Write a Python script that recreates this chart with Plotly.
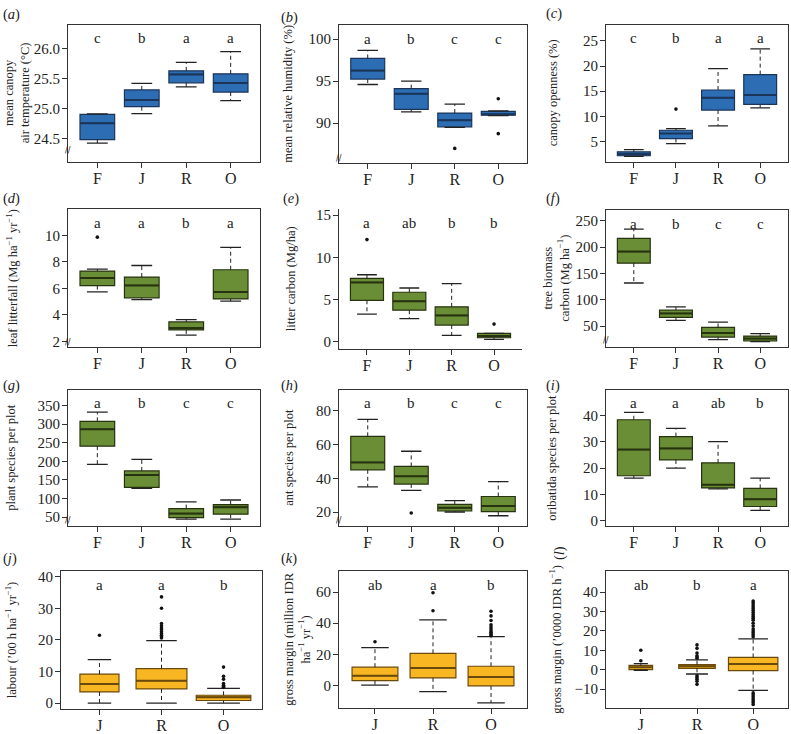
import plotly.graph_objects as go

# ---------------- data ----------------
CATS4 = ["F", "J", "R", "O"]
CATS3 = ["J", "R", "O"]

# (a) mean canopy air temperature
a_lower = [24.42, 24.915, 25.36, 25.13]
a_q1 = [24.48, 25.03, 25.43, 25.275]
a_median = [24.755, 25.14, 25.57, 25.425]
a_q3 = [24.90, 25.31, 25.63, 25.58]
a_upper = [24.91, 25.42, 25.77, 25.95]
a_outliers = [[], [], [], []]
a_letters = ["c", "b", "a", "a"]

# (b) mean relative humidity
b_lower = [94.6, 91.35, 89.5, 90.9]
b_q1 = [95.25, 91.65, 89.56, 90.94]
b_median = [96.25, 93.5, 90.35, 91.06]
b_q3 = [97.7, 94.1, 91.2, 91.4]
b_upper = [98.65, 95.0, 92.27, 91.45]
b_outliers = [[], [], [87.0], [92.9, 88.75]]
b_letters = ["a", "b", "c", "c"]

# (c) canopy openness
c_lower = [2.05, 4.6, 8.1, 11.7]
c_q1 = [2.18, 5.6, 11.25, 12.38]
c_median = [2.5, 6.6, 13.7, 14.25]
c_q3 = [2.95, 7.25, 15.25, 18.3]
c_upper = [3.4, 7.55, 19.5, 23.4]
c_outliers = [[], [11.45], [], []]
c_letters = ["c", "b", "a", "a"]

# (d) leaf litterfall
d_lower = [5.74, 5.16, 2.47, 5.04]
d_q1 = [6.21, 5.29, 2.87, 5.21]
d_median = [6.78, 6.23, 3.02, 5.74]
d_q3 = [7.31, 6.86, 3.47, 7.41]
d_upper = [7.46, 7.73, 3.64, 9.1]
d_outliers = [[9.87], [], [], []]
d_letters = ["a", "a", "b", "a"]

# (e) litter carbon
e_lower = [3.25, 2.71, 0.74, 0.27]
e_q1 = [4.9, 3.72, 1.96, 0.45]
e_median = [7.02, 4.78, 3.1, 0.66]
e_q3 = [7.49, 5.85, 4.12, 0.98]
e_upper = [7.93, 6.36, 6.87, 0.98]
e_outliers = [[12.1], [], [], [2.07]]
e_letters = ["a", "ab", "b", "b"]

# (f) tree biomass carbon
f_lower = [131.9, 60.8, 24.3, 20.5]
f_q1 = [169.6, 66.4, 29.2, 21.7]
f_median = [191.5, 74.0, 36.8, 26.2]
f_q3 = [216.8, 80.2, 47.5, 31.1]
f_upper = [234.3, 86.6, 57.5, 35.7]
f_outliers = [[], [], [], []]
f_letters = ["a", "b", "c", "c"]

# (g) plant species per plot
g_lower = [191.9, 127.2, 44.7, 44.7]
g_q1 = [240.6, 129.9, 48.5, 58.0]
g_median = [285.9, 163.4, 59.6, 76.6]
g_q3 = [307.2, 174.1, 72.9, 83.5]
g_upper = [332.2, 205.2, 90.7, 96.0]
g_outliers = [[], [], [], []]
g_letters = ["a", "b", "c", "c"]

# (h) ant species per plot
h_lower = [34.9, 32.9, 20.0, 17.8]
h_q1 = [45.06, 36.6, 20.6, 20.2]
h_median = [49.4, 41.2, 22.5, 23.5]
h_q3 = [64.9, 47.06, 24.5, 29.2]
h_upper = [74.9, 56.06, 26.8, 38.0]
h_outliers = [[], [19.4], [], []]
h_letters = ["a", "b", "c", "c"]

# (i) oribatida species per plot
i_lower = [16.2, 20.0, 12.1, 3.9]
i_q1 = [17.1, 23.1, 12.45, 5.4]
i_median = [27.05, 27.5, 13.7, 8.2]
i_q3 = [38.4, 32.0, 22.0, 12.3]
i_upper = [41.2, 35.1, 30.1, 16.2]
i_outliers = [[], [], [], []]
i_letters = ["a", "a", "ab", "b"]

# (j) labour
j_lower = [0.0, 0.0, 0.0]
j_q1 = [3.54, 4.5, 0.85]
j_median = [6.05, 7.1, 1.9]
j_q3 = [9.2, 10.9, 2.5]
j_upper = [13.8, 19.75, 4.7]
j_outliers = [[21.5],
              [20.6, 21.0, 21.5, 22.0, 22.6, 23.2, 23.8, 24.5, 25.2, 30.0, 33.6],
              [5.0, 5.3, 5.7, 6.2, 7.6, 8.5, 11.4]]
j_letters = ["a", "a", "b"]

# (k) gross margin per ha
k_lower = [0.2, -4.0, -11.3]
k_q1 = [3.0, 4.8, -0.4]
k_median = [6.2, 11.2, 5.3]
k_q3 = [11.7, 20.6, 12.3]
k_upper = [24.3, 42.1, 31.3]
k_outliers = [[28.1], [48.0, 59.6],
              [32.3, 33.2, 34.0, 35.0, 36.2, 37.5, 39.0, 41.7, 44.7, 47.7]]
k_letters = ["ab", "a", "b"]

# (l) gross margin per hour
l_lower = [-0.3, -2.25, -10.75]
l_q1 = [0.0, 0.7, -0.5]
l_median = [1.2, 1.7, 2.9]
l_q3 = [2.2, 2.6, 6.3]
l_upper = [3.1, 5.1, 15.9]
l_outliers = [[4.6, 10.0],
              [5.9, 6.5, 7.2, 8.6, 11.0, 12.8, -3.2, -4.0, -5.0, -6.0, -7.6],
              [17.0, 18.0, 19.0, 20.0, 21.0, 22.5, 24.0, 25.5, 26.5, 27.5, 28.5,
               29.5, 30.5, 31.5, 32.5, 33.5, 34.5, 35.5,
               -12.0, -13.0, -14.0, -15.0, -16.0, -17.0, -18.0]]
l_letters = ["ab", "b", "a"]

# axis tick values
a_ticks = [24.5, 25.0, 25.5, 26.0]
b_ticks = [90, 95, 100]
c_ticks = [5, 10, 15, 20, 25]
d_ticks = [2, 4, 6, 8, 10]
e_ticks = [0, 5, 10, 15]
f_ticks = [50, 100, 150, 200, 250]
g_ticks = [50, 100, 150, 200, 250, 300, 350]
h_ticks = [20, 40, 60, 80]
i_ticks = [0, 10, 20, 30, 40]
j_ticks = [0, 10, 20, 30, 40]
k_ticks = [0, 20, 40, 60]
l_ticks = [-10, 0, 10, 20, 30, 40]

# ---------------- style ----------------
W, H = 791, 734
FONT = "Liberation Serif"
BLUE, BLUE_EDGE = "#2c6db4", "#1b3558"
GREEN, GREEN_EDGE = "#6a8e35", "#27330f"
ORANGE, ORANGE_EDGE = "#f8b722", "#6a4a0c"
INK = "#222222"

panels = [
    # key, cats, stats..., box px (l,t,r,b), yrange, ticks, fmt, title, title x px,
    # fill, edge, frame, break, widths, label pos
    ("a", CATS4, a_lower, a_q1, a_median, a_q3, a_upper, a_outliers, a_letters,
     (68, 23, 260, 161), [24.11, 26.40], a_ticks, ".1f",
     "mean canopy<br>air temperature (°C)", 17, BLUE, BLUE_EDGE, True, 0.08, None, (1, 2)),
    ("b", CATS4, b_lower, b_q1, b_median, b_q3, b_upper, b_outliers, b_letters,
     (339, 23, 527, 162), [85.3, 101.7], b_ticks, "",
     "mean relative humidity (%)", 288, BLUE, BLUE_EDGE, True, 0.03, None, (279, 5)),
    ("c", CATS4, c_lower, c_q1, c_median, c_q3, c_upper, c_outliers, c_letters,
     (606, 23, 788, 161), [1.0, 28.2], c_ticks, "",
     "canopy openness (%)", 553, BLUE, BLUE_EDGE, True, None, None, (544, 1)),
    ("d", CATS4, d_lower, d_q1, d_median, d_q3, d_upper, d_outliers, d_letters,
     (68, 209, 260, 348), [1.57, 11.97], d_ticks, "",
     "leaf litterfall (Mg ha<sup>−1</sup> yr<sup>−1</sup>)", 12, GREEN, GREEN_EDGE, True, 0.035, None, (1, 188)),
    ("e", CATS4, e_lower, e_q1, e_median, e_q3, e_upper, e_outliers, e_letters,
     (339, 209, 522, 350), [-0.9, 15.7], e_ticks, "",
     "litter carbon (Mg/ha)", 291, GREEN, GREEN_EDGE, False, None, None, (281, 188)),
    ("f", CATS4, f_lower, f_q1, f_median, f_q3, f_upper, f_outliers, f_letters,
     (606, 210, 788, 348), [10, 270], f_ticks, "",
     "tree biomass<br>carbon (Mg ha<sup>−1</sup>)", 556, GREEN, GREEN_EDGE, True, 0.05, None, (544, 188)),
    ("g", CATS4, g_lower, g_q1, g_median, g_q3, g_upper, g_outliers, g_letters,
     (68, 391, 260, 528), [27, 392], g_ticks, "",
     "plant species per plot", 11, GREEN, GREEN_EDGE, True, 0.04, None, (1, 376)),
    ("h", CATS4, h_lower, h_q1, h_median, h_q3, h_upper, h_outliers, h_letters,
     (339, 391, 527, 528), [11.9, 92.5], h_ticks, "",
     "ant species per plot", 289, GREEN, GREEN_EDGE, True, 0.04, None, (279, 376)),
    ("i", CATS4, i_lower, i_q1, i_median, i_q3, i_upper, i_outliers, i_letters,
     (606, 391, 788, 528), [-1.9, 49.8], i_ticks, "",
     "oribatida species per plot", 552, GREEN, GREEN_EDGE, True, None, None, (544, 376)),
    ("j", CATS3, j_lower, j_q1, j_median, j_q3, j_upper, j_outliers, j_letters,
     (61, 574, 262, 713), [-1.9, 41.7], j_ticks, "",
     "labour (’00 h ha<sup>−1</sup> yr<sup>−1</sup>)", 11, ORANGE, ORANGE_EDGE, True, None,
     [0.63, 0.82, 0.88], (1, 551)),
    ("k", CATS3, k_lower, k_q1, k_median, k_q3, k_upper, k_outliers, k_letters,
     (339, 574, 527, 712), [-14.7, 73.4], k_ticks, "",
     "gross margin (million IDR<br>ha<sup>−1</sup> yr<sup>−1</sup>)", 297, ORANGE, ORANGE_EDGE, True, None,
     [0.79, 0.79, 0.79], (279, 551)),
    ("l", CATS3, l_lower, l_q1, l_median, l_q3, l_upper, l_outliers, l_letters,
     (606, 574, 788, 712), [-19.9, 50.8], l_ticks, "",
     "gross margin (’0000 IDR h<sup>−1</sup>)", 555, ORANGE, ORANGE_EDGE, True, None,
     [0.42, 0.65, 0.88], (549, 547)),
]

fig = go.Figure()
layout = {}
annotations = []

for idx, p in enumerate(panels, start=1):
    (key, cats, lo, q1, med, q3, hi, outs, letters, px, yr, ticks, fmt,
     title, title_x, fill, edge, frame, brk, widths, lab) = p
    n = len(cats)
    xs = list(range(1, n + 1))
    if widths is None:
        widths = [0.78] * n
    xa = "x" if idx == 1 else f"x{idx}"
    ya = "y" if idx == 1 else f"y{idx}"
    xkey = "xaxis" if idx == 1 else f"xaxis{idx}"
    ykey = "yaxis" if idx == 1 else f"yaxis{idx}"
    l, t, r, b = px

    # whiskers (dashed) and caps
    wx, wy, cx, cy, mx, my = [], [], [], [], [], []
    for k in range(n):
        x0 = xs[k]
        hw = widths[k] / 2
        cw = widths[k] * 0.3
        wx += [x0, x0, None, x0, x0, None]
        wy += [q3[k], hi[k], None, q1[k], lo[k], None]
        cx += [x0 - cw, x0 + cw, None, x0 - cw, x0 + cw, None]
        cy += [hi[k], hi[k], None, lo[k], lo[k], None]
        mx += [x0 - hw, x0 + hw, None]
        my += [med[k], med[k], None]
    fig.add_trace(go.Scatter(x=wx, y=wy, mode="lines", xaxis=xa, yaxis=ya,
                             line=dict(color=INK, width=1, dash="4px,3px"),
                             showlegend=False, hoverinfo="skip"))
    fig.add_trace(go.Scatter(x=cx, y=cy, mode="lines", xaxis=xa, yaxis=ya,
                             line=dict(color=INK, width=1.3),
                             showlegend=False, hoverinfo="skip"))
    # boxes
    for k in range(n):
        fig.add_trace(go.Box(x=[xs[k]], q1=[q1[k]], median=[med[k]], q3=[q3[k]],
                             lowerfence=[q1[k]], upperfence=[q3[k]],
                             width=widths[k], fillcolor=fill,
                             line=dict(color=edge, width=1.2),
                             boxpoints=False, xaxis=xa, yaxis=ya,
                             showlegend=False, hoverinfo="skip"))
    # thick medians
    fig.add_trace(go.Scatter(x=mx, y=my, mode="lines", xaxis=xa, yaxis=ya,
                             line=dict(color=edge, width=2),
                             showlegend=False, hoverinfo="skip"))
    # outliers
    ox, oy = [], []
    for k in range(n):
        ox += [xs[k]] * len(outs[k])
        oy += outs[k]
    if ox:
        fig.add_trace(go.Scatter(x=ox, y=oy, mode="markers", xaxis=xa, yaxis=ya,
                                 marker=dict(color="#111111", size=3.6),
                                 showlegend=False, hoverinfo="skip"))

    xr = [0.34, n + 0.66] if n == 4 else [0.38, n + 0.62]
    layout[xkey] = dict(
        domain=[l / W, r / W], anchor=ya, range=xr,
        tickvals=xs, ticktext=cats, ticks="outside", ticklen=5, tickcolor="#333",
        ticklabelstandoff=-3,
        showline=True, linecolor="#333", linewidth=1, mirror=frame,
        showgrid=False, zeroline=False,
        tickfont=dict(family=FONT, size=16, color=INK))
    layout[ykey] = dict(
        domain=[1 - b / H, 1 - t / H], anchor=xa, range=yr,
        tickvals=ticks, tickformat=fmt, ticks="outside", ticklen=5, tickcolor="#333",
        ticklabelstandoff=-1,
        showline=True, linecolor="#333", linewidth=1, mirror=frame,
        showgrid=False, zeroline=False,
        tickfont=dict(family=FONT, size=15, color=INK))

    # y-axis title, placed like the original (fixed distance from the axis)
    annotations.append(dict(x=title_x / W, y=1 - (t + b) / 2 / H, xref="paper", yref="paper",
                            xanchor="center", yanchor="middle", text=title, textangle=-90,
                            showarrow=False, font=dict(family=FONT, size=12.5, color=INK)))

    # significance letters
    for k in range(n):
        annotations.append(dict(x=xs[k], y=0.9, xref=xa, yref=f"{ya} domain",
                                yanchor="middle", xanchor="center",
                                text=letters[k], showarrow=False,
                                font=dict(family=FONT, size=15, color=INK)))
    # panel label
    lab_x, lab_y = lab
    if key == "l":
        annotations.append(dict(x=lab_x / W, y=1 - lab_y / H, xref="paper", yref="paper",
                                xanchor="left", yanchor="top", text=f"(<i>{key}</i>)",
                                textangle=-90, showarrow=False,
                                font=dict(family=FONT, size=14.5, color=INK)))
    else:
        annotations.append(dict(x=lab_x / W, y=1 - lab_y / H, xref="paper", yref="paper",
                                xanchor="left", yanchor="top", text=f"(<i>{key}</i>)",
                                showarrow=False, font=dict(family=FONT, size=14.5, color=INK)))
    # axis break mark
    if brk is not None:
        annotations.append(dict(x=0, y=brk, xref=f"{xa} domain", yref=f"{ya} domain",
                                xanchor="center", yanchor="middle",
                                text="//", showarrow=False,
                                font=dict(family="DejaVu Sans", size=8, color=INK)))

fig.update_layout(
    width=W, height=H, margin=dict(l=0, r=0, t=0, b=0),
    paper_bgcolor="white", plot_bgcolor="white",
    annotations=annotations, boxmode="overlay",
    **layout)

fig.write_html("out.html", config={"displayModeBar": False},
               post_script="document.body.style.margin='0';")
